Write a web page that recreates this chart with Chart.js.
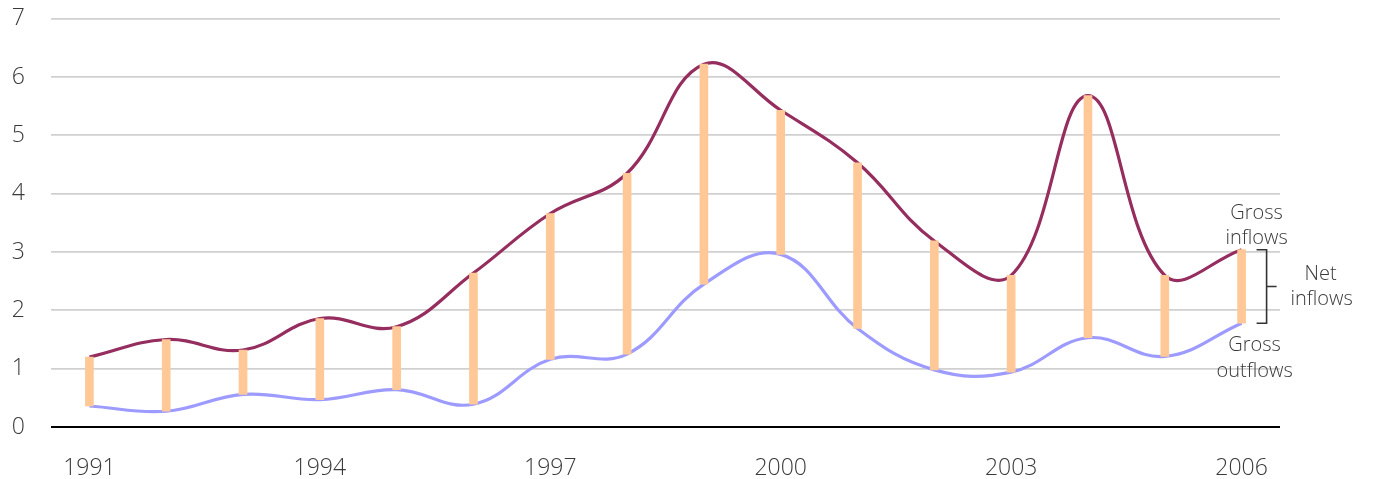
<!DOCTYPE html>
<html>
<head>
<meta charset="utf-8">
<script src="https://cdn.jsdelivr.net/npm/chart.js@4"></script>
<style>
  html, body { margin: 0; padding: 0; background: #fff; }
  #wrap { width: 1377px; height: 479px; }
</style>
</head>
<body>
<div id="wrap"><canvas id="flowChart" width="1377" height="479"></canvas></div>
<script>
const YEARS = ['1991', '1992', '1993', '1994', '1995', '1996', '1997', '1998',
               '1999', '2000', '2001', '2002', '2003', '2004', '2005', '2006'];
const GROSS_INFLOWS  = [1.20, 1.50, 1.32, 1.86, 1.72, 2.64, 3.66, 4.35, 6.22, 5.43, 4.53, 3.19, 2.60, 5.68, 2.60, 3.04];
const GROSS_OUTFLOWS = [0.36, 0.27, 0.56, 0.47, 0.64, 0.39, 1.16, 1.25, 2.45, 2.96, 1.69, 0.98, 0.94, 1.53, 1.21, 1.78];
const Y_TICKS = [0, 1, 2, 3, 4, 5, 6, 7];

const FONT = "'Open Sans', Lato, sans-serif";
const TEXT_COLOR = '#3a3a3a';

// labels and bracket at the right end of the series
const endLabels = {
    id: 'endLabels',
    afterDatasetsDraw(chart) {
        const { ctx, scales: { x, y } } = chart;
        const last = YEARS.length - 1;
        const px = x.getPixelForValue(last);
        const yIn = y.getPixelForValue(GROSS_INFLOWS[last]);
        const yOut = y.getPixelForValue(GROSS_OUTFLOWS[last]);

        ctx.save();
        ctx.font = `300 20px ${FONT}`;
        ctx.fillStyle = TEXT_COLOR;
        ctx.textAlign = 'center';
        ctx.textBaseline = 'middle';
        ctx.fillText('Gross', px + 15, yIn - 36);
        ctx.fillText('inflows', px + 15, yIn - 11);
        ctx.fillText('Gross', px + 13, yOut + 22);
        ctx.fillText('outflows', px + 13, yOut + 48);

        const bx = px + 25;
        const mid = (yIn + yOut) / 2;
        ctx.fillText('Net', px + 79, mid - 12);
        ctx.fillText('inflows', px + 80, mid + 13);

        ctx.strokeStyle = '#333';
        ctx.lineWidth = 1.6;
        ctx.beginPath();
        ctx.moveTo(bx - 10, yIn);
        ctx.lineTo(bx, yIn);
        ctx.lineTo(bx, yOut);
        ctx.lineTo(bx - 10, yOut);
        ctx.moveTo(bx, mid);
        ctx.lineTo(bx + 10, mid);
        ctx.stroke();
        ctx.restore();
    }
};

new Chart(document.getElementById('flowChart'), {
    data: {
        labels: YEARS,
        datasets: [
            {
                type: 'bar',
                label: 'Net inflows',
                data: YEARS.map((_, i) => [GROSS_OUTFLOWS[i], GROSS_INFLOWS[i]]),
                backgroundColor: '#FFC896',
                barThickness: 8,
                order: 0
            },
            {
                type: 'line',
                label: 'Gross inflows',
                data: GROSS_INFLOWS,
                borderColor: '#952D5F',
                borderWidth: 3.2,
                pointRadius: 0,
                tension: 0.4,
                order: 1
            },
            {
                type: 'line',
                label: 'Gross outflows',
                data: GROSS_OUTFLOWS,
                borderColor: '#9D9BFF',
                borderWidth: 3.2,
                pointRadius: 0,
                tension: 0.4,
                order: 1
            }
        ]
    },
    options: {
        responsive: false,
        animation: false,
        layout: { padding: { top: 18.7, right: 97, left: 0, bottom: 0 } },
        plugins: {
            legend: { display: false },
            tooltip: { enabled: false }
        },
        scales: {
            x: {
                offset: true,
                grid: { display: false, drawTicks: false },
                border: { display: false },
                ticks: {
                    autoSkip: false,
                    maxRotation: 0,
                    padding: 28,
                    color: TEXT_COLOR,
                    font: { family: FONT, size: 23, weight: '300' },
                    callback: (v, i) => (i % 3 === 0 ? YEARS[i] : '')
                },
                afterFit: s => { s.height = 52; }
            },
            y: {
                min: 0,
                max: 7,
                afterBuildTicks: s => { s.ticks = Y_TICKS.map(v => ({ value: v })); },
                grid: {
                    drawTicks: false,
                    color: c => (c.tick.value === 0 ? '#000' : '#d0d0d0'),
                    lineWidth: c => (c.tick.value === 0 ? 2 : 1.8)
                },
                border: { display: false },
                ticks: {
                    padding: 26,
                    color: TEXT_COLOR,
                    font: { family: FONT, size: 23, weight: '300' }
                },
                // tick padding would otherwise push the plot area down
                afterFit: s => { s.width = 51; s.paddingTop = 0; s.paddingBottom = 0; }
            }
        }
    },
    plugins: [endLabels]
});
</script>
</body>
</html>
